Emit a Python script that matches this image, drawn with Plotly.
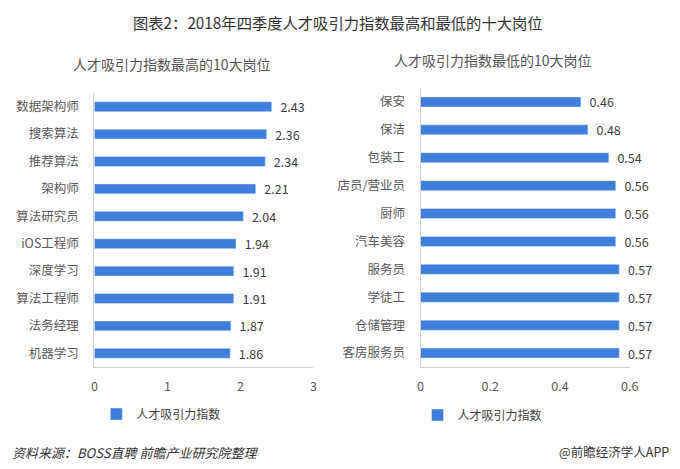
import plotly.graph_objects as go

# ---- data ----
high_jobs = ["数据架构师", "搜索算法", "推荐算法", "架构师", "算法研究员",
             "iOS工程师", "深度学习", "算法工程师", "法务经理", "机器学习"]
high_vals = [2.43, 2.36, 2.34, 2.21, 2.04, 1.94, 1.91, 1.91, 1.87, 1.86]

low_jobs = ["保安", "保洁", "包装工", "店员/营业员", "厨师",
            "汽车美容", "服务员", "学徒工", "仓储管理", "客房服务员"]
low_vals = [0.46, 0.48, 0.54, 0.56, 0.56, 0.56, 0.57, 0.57, 0.57, 0.57]

left_ticks = [0, 1, 2, 3]
right_ticks = [0, 0.2, 0.4, 0.6]
right_ticktext = ["0", "0.2", "0.4", "0.6"]

series_name = "人才吸引力指数"
main_title = "图表2：2018年四季度人才吸引力指数最高和最低的十大岗位"
left_title = "人才吸引力指数最高的10大岗位"
right_title = "人才吸引力指数最低的10大岗位"
source_text = "资料来源：BOSS直聘 前瞻产业研究院整理"
brand_text = "@前瞻经济学人APP"

W, H = 680, 469
BAR = "#3E7FDB"
FONT = "Noto Sans CJK SC"

def px(x):
    return x / W

def py(y):
    return 1 - y / H

fig = go.Figure()
fig.add_trace(go.Bar(
    x=high_vals, y=high_jobs, orientation="h", name=series_name,
    marker=dict(color=BAR), xaxis="x", yaxis="y",
    text=high_vals, texttemplate="  %{x:.2f}", textposition="outside",
    constraintext="none",
    textfont=dict(size=12.5, color="#404040"), cliponaxis=False,
    legend="legend",
))
fig.add_trace(go.Bar(
    x=low_vals, y=low_jobs, orientation="h", name=series_name,
    marker=dict(color=BAR), xaxis="x2", yaxis="y2",
    text=low_vals, texttemplate="  %{x:.2f}", textposition="outside",
    constraintext="none",
    textfont=dict(size=12.5, color="#404040"), cliponaxis=False,
    legend="legend2",
))

axis_common = dict(showgrid=False, zeroline=False, showline=True,
                   linecolor="#d0d0d0", linewidth=1,
                   tickfont=dict(size=12.5, color="#595959", family=FONT))

fig.update_layout(
    width=W, height=H,
    margin=dict(l=0, r=0, t=0, b=0),
    paper_bgcolor="white", plot_bgcolor="white",
    font=dict(family=FONT, color="#404040"),
    bargap=0.64,
    xaxis=dict(domain=[px(93), px(316)], range=[0, 3],
               tickvals=left_ticks,
               anchor="y", ticklabelstandoff=8, **axis_common),
    yaxis=dict(domain=[py(367), py(93)], autorange="reversed",
               anchor="x", ticklabelstandoff=12, **axis_common),
    xaxis2=dict(domain=[px(425), px(638)], range=[0, 0.6],
                tickvals=right_ticks, ticktext=right_ticktext,
                anchor="y2", ticklabelstandoff=8, **axis_common),
    yaxis2=dict(domain=[py(367), py(88)], autorange="reversed",
                anchor="x2", ticklabelstandoff=12, **axis_common),
    legend=dict(x=px(95), y=py(414), xanchor="left", yanchor="middle",
                font=dict(size=12, color="#404040"), bgcolor="rgba(0,0,0,0)"),
    legend2=dict(x=px(422), y=py(415), xanchor="left", yanchor="middle",
                 font=dict(size=12, color="#404040"), bgcolor="rgba(0,0,0,0)"),
    showlegend=True,
)

annotations = [
    dict(text=main_title, x=px(341), y=py(22), font=dict(size=15.3, color="#333333")),
    dict(text=left_title, x=px(172), y=py(64), font=dict(size=14, color="#555555")),
    dict(text=right_title, x=px(499), y=py(60), font=dict(size=14, color="#555555")),
]
for a in annotations:
    fig.add_annotation(xref="paper", yref="paper", showarrow=False,
                       xanchor="center", yanchor="middle", **a)
fig.add_annotation(xref="paper", yref="paper", showarrow=False,
                   text="<i>" + source_text + "</i>", x=px(7), y=py(452),
                   xanchor="left", yanchor="middle",
                   font=dict(size=13, color="#333333"))
fig.add_annotation(xref="paper", yref="paper", showarrow=False,
                   text=brand_text, x=px(680), y=py(451),
                   xanchor="right", yanchor="middle",
                   font=dict(size=12.5, color="#333333"))

fig.write_html(
    "out.html",
    config={"displayModeBar": False},
    post_script="document.body.style.margin='0';document.body.style.overflow='hidden';",
)
